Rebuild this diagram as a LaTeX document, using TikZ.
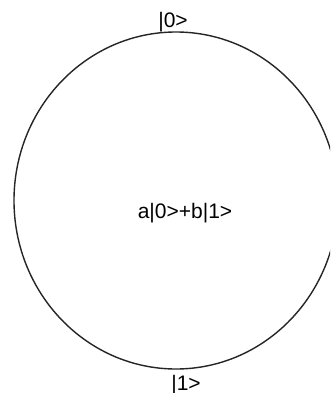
\documentclass[tikz,border=0pt]{standalone}
\usepackage{fontspec}
\setmainfont{Liberation Sans}
\usetikzlibrary{shapes.geometric}
\begin{document}
\begin{tikzpicture}[x=1pt,y=-1pt,
  lbl/.style={anchor=base,inner sep=0pt,font=\fontsize{21}{25}\selectfont},
  sphere/.style={draw=black!85,line width=1.4pt,ellipse,inner sep=0pt}]
\useasboundingbox (0,0) rectangle (330,393);
\clip (0,0) rectangle (330,393);
\fill[white] (0,0) rectangle (330,393);
\node[sphere,minimum width=324pt,minimum height=337pt] (bloch) at (176,200.5) {};
\node[lbl] (ket0) at (173,28) {|0>};
\node[lbl] (ket1) at (186,390) {|1>};
\node[lbl] (state) at (185,218) {a|0>+b|1>};
\end{tikzpicture}
\end{document}
